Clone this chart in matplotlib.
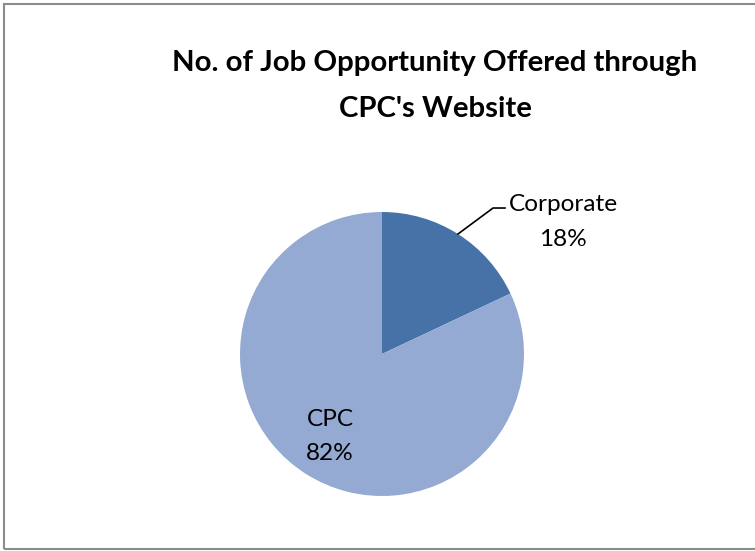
import matplotlib
matplotlib.use('Agg')
import matplotlib.pyplot as plt
from matplotlib.patches import Rectangle

labels = ['Corporate', 'CPC']
shares = [18, 82]
colors = ['#4672A8', '#94AAD3']
title = "No. of Job Opportunity Offered through\nCPC's Website"

W, H = 755, 551
fig = plt.figure(figsize=(W / 100, H / 100), dpi=100)
fig.patch.set_facecolor('white')

# chart border (right edge runs off the image)
fig.patches.append(Rectangle((4 / W, 2 / H), 1.2, (H - 6) / H, transform=fig.transFigure,
                             fill=False, edgecolor='#8c8c8c', linewidth=1.5))

cx, cy, r = 382, 354, 142
ax = fig.add_axes([(cx - r) / W, 1 - (cy + r) / H, 2 * r / W, 2 * r / H])
ax.pie(shares, colors=colors, startangle=90, counterclock=False,
       wedgeprops=dict(linewidth=0))
ax.set_xlim(-1, 1)
ax.set_ylim(-1, 1)
ax.axis('off')

total = sum(shares)
txt = [f"{l}\n{v / total * 100:.0f}%" for l, v in zip(labels, shares)]
font = 'Lato'
ax.text(1.275, 0.93, txt[0], ha='center', va='center', fontsize=17.6, family=font,
        linespacing=1.8)
ax.text(-0.365, -0.58, txt[1], ha='center', va='center', fontsize=17.6, family=font,
        linespacing=1.75)
# leader line for Corporate
ax.plot([0.535, 0.782, 0.866], [0.845, 1.028, 1.028], color='black', lw=1.2,
        clip_on=False)

fig.text(435 / W, 1 - 86 / H, title, ha='center', va='center', fontsize=21.2,
         fontweight='bold', family=font, linespacing=1.92)

fig.savefig('out.png', dpi=100)
